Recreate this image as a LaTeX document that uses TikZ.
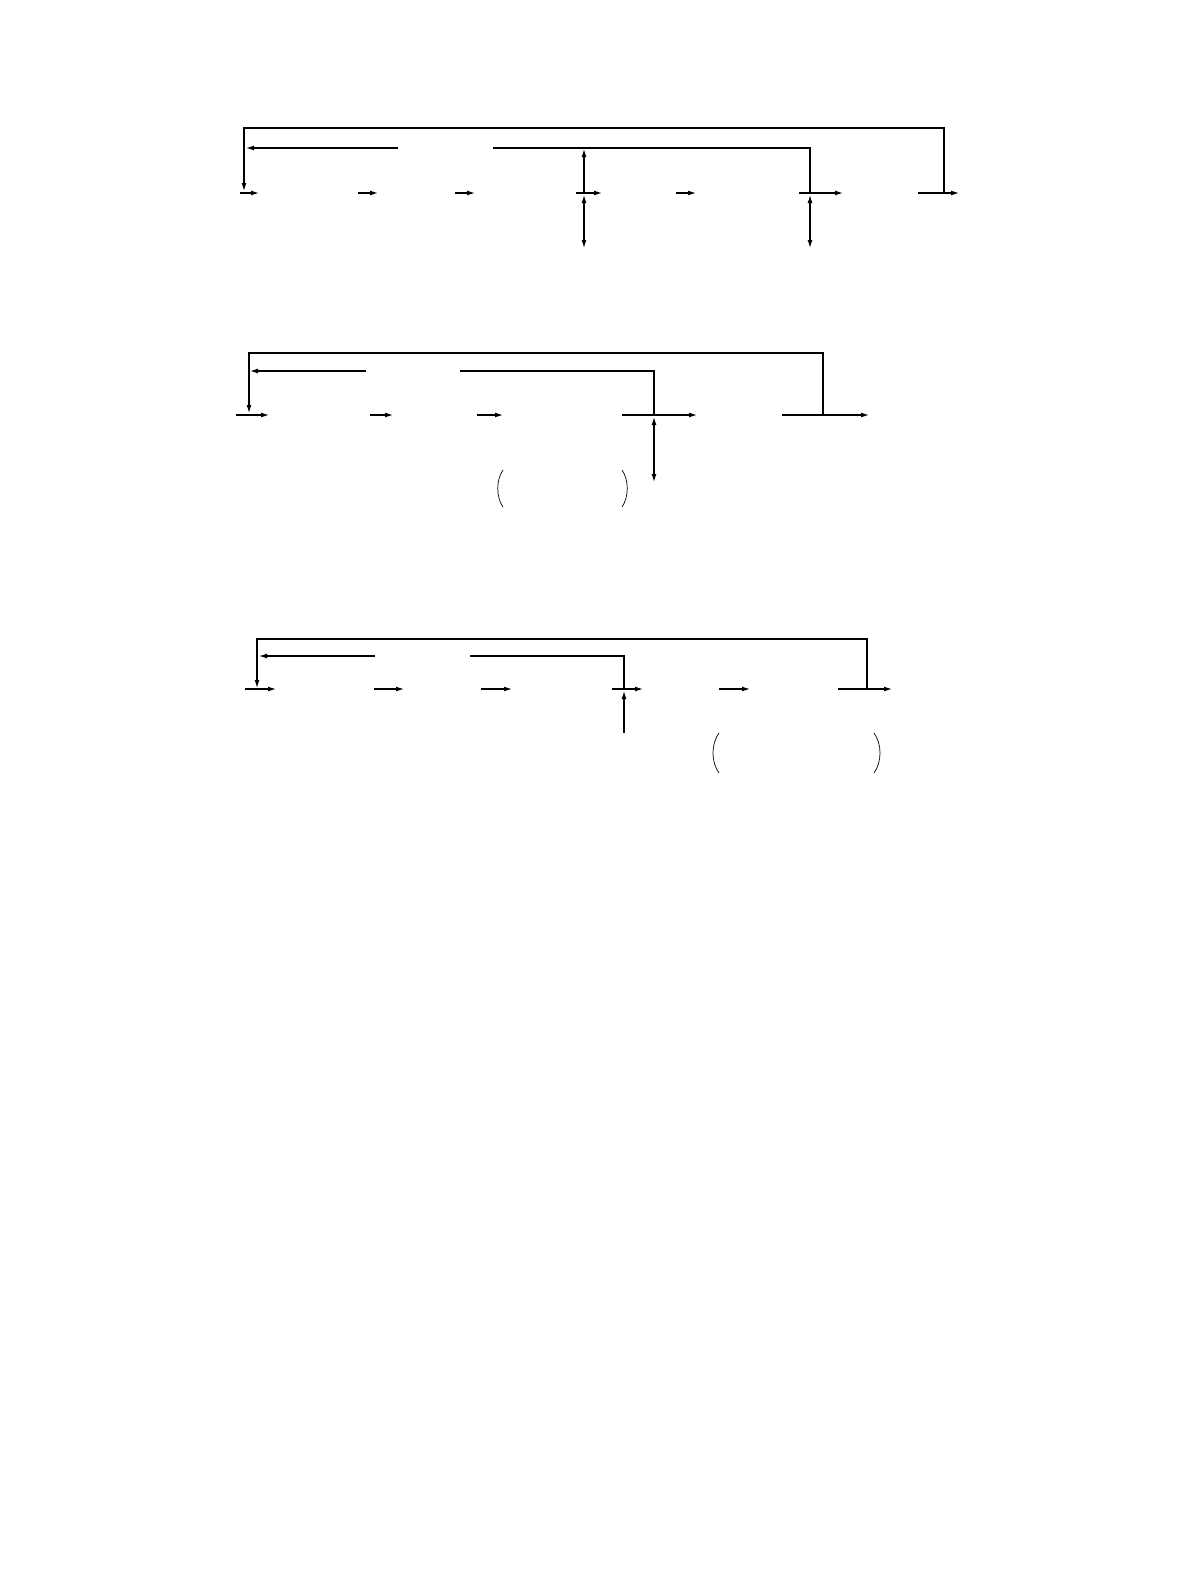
\documentclass[tikz,border=0pt]{standalone}
\usetikzlibrary{arrows.meta}
\begin{document}
\begin{tikzpicture}[x=1pt,y=-1pt,
  ln/.style={line width=1.2pt,line cap=butt},
  ar/.style={ln,-{Latex[length=8pt,width=5pt]}},
  dar/.style={ln,{Latex[length=8pt,width=5pt]}-{Latex[length=8pt,width=5pt]}},
  paren/.style={line width=0.7pt}]
\useasboundingbox (0,0) rectangle (1190,1584);
% ---------- Diagram 1 ----------
\coordinate (a1) at (244,128); \coordinate (a2) at (944,128);
\coordinate (a3) at (944,193); \coordinate (a4) at (244,191);
\draw[ar] (a3) -- (a2) -- (a1) -- (a4);
\coordinate (b1) at (398,148); \coordinate (b2) at (246,148);
\draw[ar] (b1) -- (b2);
\coordinate (b3) at (493,148); \coordinate (b4) at (810,148); \coordinate (b5) at (810,193);
\draw[ln] (b3) -- (b4) -- (b5);
\foreach \s/\e [count=\i] in {240/259,358/378,455/475,576/602,676/696,799/843,918/959}{
  \coordinate (m1s\i) at (\s,193); \coordinate (m1e\i) at (\e,193);
  \draw[ar] (m1s\i) -- (m1e\i);}
\coordinate (u1) at (584,193); \coordinate (u2) at (584,149);
\draw[ar] (u1) -- (u2);
\coordinate (d1) at (584,195); \coordinate (d2) at (584,248);
\draw[dar] (d1) -- (d2);
\coordinate (d3) at (810,195); \coordinate (d4) at (810,248);
\draw[dar] (d3) -- (d4);
% ---------- Diagram 2 ----------
\coordinate (p1) at (249,353); \coordinate (p2) at (823,353);
\coordinate (p3) at (823,415); \coordinate (p4) at (249,413);
\draw[ar] (p3) -- (p2) -- (p1) -- (p4);
\coordinate (q1) at (366,371); \coordinate (q2) at (250,371);
\draw[ar] (q1) -- (q2);
\coordinate (q3) at (460,371); \coordinate (q4) at (654,371); \coordinate (q5) at (654,415);
\draw[ln] (q3) -- (q4) -- (q5);
\foreach \s/\e [count=\i] in {236/269,370/393,477/503,622/697,782/869}{
  \coordinate (m2s\i) at (\s,415); \coordinate (m2e\i) at (\e,415);
  \draw[ar] (m2s\i) -- (m2e\i);}
\coordinate (r1) at (654,417); \coordinate (r2) at (654,482);
\draw[dar] (r1) -- (r2);
\coordinate (lp1) at (503,470); \coordinate (lp2) at (503,507);
\draw[paren] (lp1) .. controls (496,480) and (496,497) .. (lp2);
\coordinate (rp1) at (622,470); \coordinate (rp2) at (622,507);
\draw[paren] (rp1) .. controls (629,480) and (629,497) .. (rp2);
% ---------- Diagram 3 ----------
\coordinate (s1) at (257,639); \coordinate (s2) at (867,639);
\coordinate (s3) at (867,689); \coordinate (s4) at (257,688);
\draw[ar] (s3) -- (s2) -- (s1) -- (s4);
\coordinate (t1) at (375,656); \coordinate (t2) at (259,656);
\draw[ar] (t1) -- (t2);
\coordinate (t3) at (470,656); \coordinate (t4) at (624,656); \coordinate (t5) at (624,689);
\draw[ln] (t3) -- (t4) -- (t5);
\foreach \s/\e [count=\i] in {245/276,374/404,481/512,612/643,719/750,838/892}{
  \coordinate (m3s\i) at (\s,689); \coordinate (m3e\i) at (\e,689);
  \draw[ar] (m3s\i) -- (m3e\i);}
\coordinate (v1) at (624,733); \coordinate (v2) at (624,691);
\draw[ar] (v1) -- (v2);
\coordinate (lp3) at (719,733); \coordinate (lp4) at (719,773);
\draw[paren] (lp3) .. controls (711,744) and (711,762) .. (lp4);
\coordinate (rp3) at (874,733); \coordinate (rp4) at (874,773);
\draw[paren] (rp3) .. controls (882,744) and (882,762) .. (rp4);
\end{tikzpicture}
\end{document}
